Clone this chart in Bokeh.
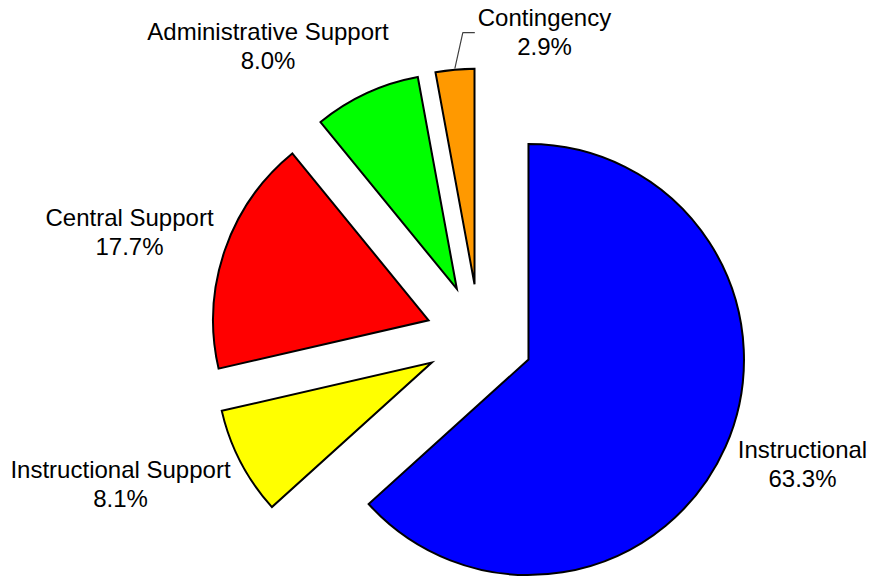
import math
from bokeh.plotting import figure
from bokeh.models import Range1d, ColumnDataSource
from bokeh.core.properties import value
from bokeh.embed import file_html
from bokeh.resources import INLINE

# ---- data ----
categories = ["Instructional", "Instructional Support", "Central Support",
              "Administrative Support", "Contingency"]
shares = [63.3, 8.1, 17.7, 8.0, 2.9]
colors = ["#0000FF", "#FFFF00", "#FF0000", "#00FF00", "#FF9900"]

# ---- layout (pixel-like canvas units, y up) ----
W, H = 869, 578
CX, CY = 478.9, 578 - 337.2
R = 215.5
EXPLODE = 53.7
# label anchor (center x, baseline y in screen px) per slice
label_pos = [(802, 449), (120, 469), (129, 217), (267.5, 31), (544, 17)]
LINE_GAP = 29

total = sum(shares)
xs, ys, starts, ends = [], [], [], []
mids = []
cum = 0.0
for s in shares:
    a = cum / total * 360.0
    b = (cum + s) / total * 360.0
    cum += s
    mid = math.radians(90 - (a + b) / 2)
    mids.append(mid)
    xs.append(CX + EXPLODE * math.cos(mid))
    ys.append(CY + EXPLODE * math.sin(mid))
    starts.append(math.radians(90 - b))
    ends.append(math.radians(90 - a))

src = ColumnDataSource(dict(x=xs, y=ys, start=starts, end=ends, color=colors))

p = figure(width=W, height=H, output_backend="svg", toolbar_location=None,
           x_range=Range1d(0, W), y_range=Range1d(0, H), min_border=0,
           x_axis_location=None, y_axis_location=None)
p.grid.visible = False
p.outline_line_color = None
p.background_fill_color = "white"
p.border_fill_color = "white"

p.wedge(x="x", y="y", radius=R, start_angle="start", end_angle="end",
        fill_color="color", line_color="black", line_width=2,
        line_join="miter", source=src)

# leader line for the Contingency slice
i = 4
sx = CX + (EXPLODE + R + 1) * math.cos(mids[i])
sy = CY + (EXPLODE + R + 1) * math.sin(mids[i])
p.line([sx, sx + 8, sx + 20], [sy, sy + 36, sy + 36], line_color="#404040", line_width=1.2)

names_x = [lp[0] for lp in label_pos]
names_y = [H - lp[1] for lp in label_pos]
pct_y = [H - (lp[1] + LINE_GAP) for lp in label_pos]
pct_txt = [f"{v:.1f}%" for v in shares]

font = value("Liberation Sans")
p.text(x=names_x, y=names_y, text=categories, text_font=font, text_font_size="24px",
       text_align="center", text_baseline="alphabetic", text_color="black")
p.text(x=names_x, y=pct_y, text=pct_txt, text_font=font, text_font_size="24px",
       text_align="center", text_baseline="alphabetic", text_color="black")

open("out.html", "w").write(file_html(p, INLINE))
